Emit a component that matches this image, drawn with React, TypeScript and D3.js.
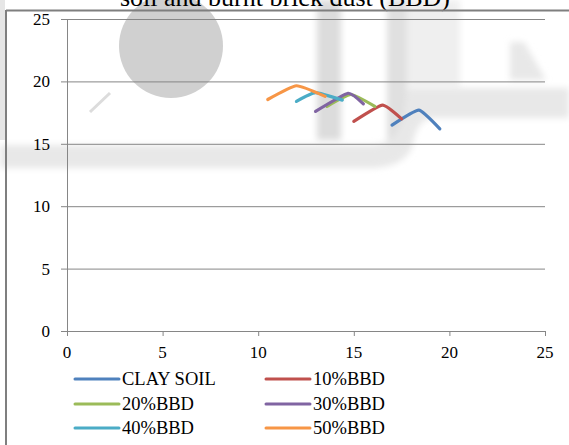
import React from "react";
import * as d3 from "d3";

const W = 569;
const H = 445;

const titleText = "soil and burnt brick dust (BBD)";
const xTicks = [0, 5, 10, 15, 20, 25];
const yTicks = [0, 5, 10, 15, 20, 25];

const seriesNames = ["CLAY SOIL", "10%BBD", "20%BBD", "30%BBD", "40%BBD", "50%BBD"];
const seriesColors = ["#4F81BD", "#C0504D", "#9BBB59", "#8064A2", "#4BACC6", "#F79646"];

const clayX = [17.0, 18.4, 19.5];
const clayY = [16.5, 17.7, 16.2];
const bbd10X = [15.0, 16.5, 17.5];
const bbd10Y = [16.8, 18.1, 17.0];
const bbd20X = [13.6, 14.85, 16.1];
const bbd20Y = [18.0, 18.95, 18.0];
const bbd30X = [13.0, 14.7, 15.5];
const bbd30Y = [17.6, 19.05, 18.2];
const bbd40X = [12.0, 13.0, 14.4];
const bbd40Y = [18.4, 19.1, 18.5];
const bbd50X = [10.5, 12.0, 13.5];
const bbd50Y = [18.55, 19.65, 18.8];

const seriesX = [clayX, bbd10X, bbd20X, bbd30X, bbd40X, bbd50X];
const seriesY = [clayY, bbd10Y, bbd20Y, bbd30Y, bbd40Y, bbd50Y];
const drawOrder = [0, 1, 2, 3, 4, 5];

const FONT = "Liberation Serif";

export default function App() {
  const x = d3.scaleLinear().domain([0, 25]).range([67, 545]);
  const y = d3.scaleLinear().domain([0, 25]).range([331, 19]);
  const line = d3
    .line<[number, number]>()
    .x((d) => x(d[0]))
    .y((d) => y(d[1]))
    .curve(d3.curveCardinal.tension(0.55));

  const legendCols = [75, 266];
  const legendRows = [379, 404, 428];
  const txt = { fontFamily: FONT } as React.CSSProperties;

  return (
    <div style={{ position: "absolute", left: 0, top: 0 }}>
      <svg width={W} height={H} style={{ display: "block", background: "#fff" }}>
        <defs>
          <filter id="soft" x="-20%" y="-20%" width="140%" height="140%">
            <feGaussianBlur stdDeviation="3" />
          </filter>
        </defs>
        {/* faint scanned watermark */}
        <g>
          <rect x={0} y={0} width={5} height={140} fill="#e6e6e6" />
          <circle cx={171} cy={46} r={52} fill="#d0d0d0" />
          <g filter="url(#soft)">
            <rect x={317} y={0} width={24} height={140} fill="#dcdcdc" />
            <rect x={407} y={0} width={53} height={86} fill="#efefef" />
            <rect x={387} y={0} width={20} height={140} fill="#e0e0e0" />
            <path
              d="M0,145 L370,145 Q398,145 404,115 L408,88 L569,88 L569,118 L432,118 Q416,120 412,148 Q402,168 370,168 L0,168 Z"
              fill="#e8e8e8"
            />
            <path d="M510,42 L524,42 L546,80 L510,80 Z" fill="#e8e8e8" />
          </g>
          <line x1={90} y1={112} x2={110} y2={93} stroke="#dcdcdc" strokeWidth={3} />
        </g>

        {/* title (cut off at top, as in the source) */}
        <text x={285} y={6} textAnchor="middle" style={txt} fontSize={26} fill="#000">
          {titleText}
        </text>

        {/* outer frame */}
        <line x1={6} y1={10.5} x2={W} y2={10.5} stroke="#7f7f7f" strokeWidth={2} />
        <line x1={6} y1={10} x2={6} y2={H} stroke="#7f7f7f" strokeWidth={2} />

        {/* gridlines */}
        {yTicks.map((t) => (
          <g key={"gy" + t}>
            <line x1={61} x2={545} y1={y(t) + 0.5} y2={y(t) + 0.5} stroke="#868686" strokeWidth={1} />
            <text x={50} y={y(t)} dy="0.35em" textAnchor="end" style={txt} fontSize={17} fill="#000">
              {t}
            </text>
          </g>
        ))}
        <line x1={67.5} x2={67.5} y1={y(25)} y2={y(0) + 5} stroke="#868686" strokeWidth={1} />
        {xTicks.map((t) => (
          <g key={"gx" + t}>
            <line x1={x(t) + 0.5} x2={x(t) + 0.5} y1={y(0)} y2={y(0) + 5} stroke="#868686" strokeWidth={1} />
            <text x={x(t)} y={358} textAnchor="middle" style={txt} fontSize={17} fill="#000">
              {t}
            </text>
          </g>
        ))}

        {/* series */}
        {drawOrder.map((i) => {
          const pts: [number, number][] = seriesX[i].map((xx, j) => [xx, seriesY[i][j]]);
          return (
            <path
              key={"s" + i}
              d={line(pts) || ""}
              fill="none"
              stroke={seriesColors[i]}
              strokeWidth={3.2}
              strokeLinecap="round"
              strokeLinejoin="round"
            />
          );
        })}

        {/* legend */}
        {seriesNames.map((name, i) => {
          const cx = legendCols[i % 2];
          const cy = legendRows[Math.floor(i / 2)];
          return (
            <g key={"l" + i}>
              <line x1={cx} x2={cx + 44} y1={cy} y2={cy} stroke={seriesColors[i]} strokeWidth={3} strokeLinecap="round" />
              <text x={cx + 47} y={cy + 6} style={txt} fontSize={18.5} fill="#000">
                {name}
              </text>
            </g>
          );
        })}
      </svg>
    </div>
  );
}
